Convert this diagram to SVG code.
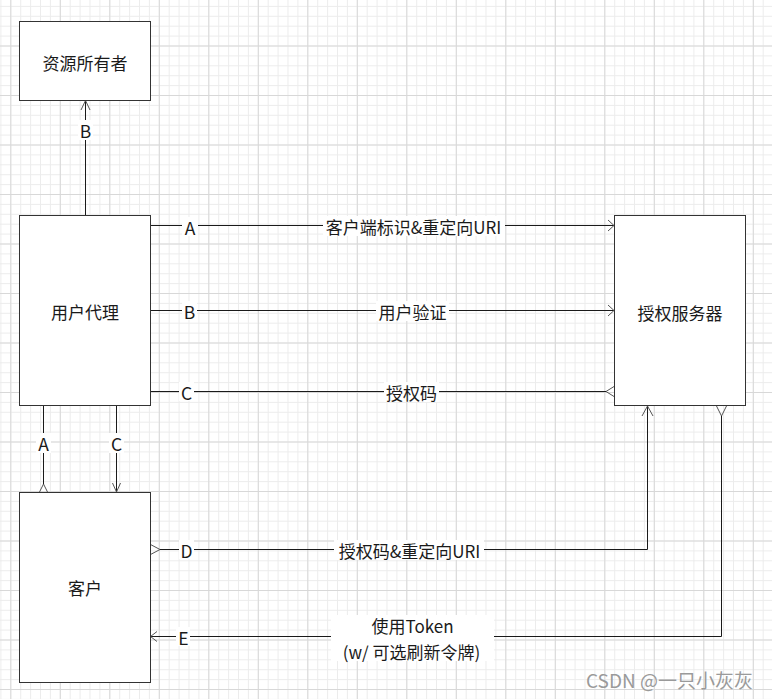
<svg xmlns="http://www.w3.org/2000/svg" width="772" height="699" viewBox="0 0 772 699">
<style>
.box{fill:#fff;stroke:#333;stroke-width:1}
.ln{fill:none;stroke:#1a1a1a;stroke-width:1}
.ah{fill:none;stroke:#555;stroke-width:1}
.bg{fill:#fff}
text{font-family:"Noto Sans CJK SC","Noto Sans",sans-serif;font-size:17px;fill:#1a1a1a;text-anchor:middle;dominant-baseline:central}
.lt{font-size:17.5px}
.wm{font-size:19px;fill:#9a9a9a;text-anchor:start;dominant-baseline:auto}
</style>
<defs>
<pattern id="minor" x="10.3" y="45.5" width="9.9" height="9.9" patternUnits="userSpaceOnUse">
<rect x="0" y="0" width="1" height="9.9" fill="#ececec"/>
<rect x="0" y="0" width="9.9" height="1" fill="#ececec"/>
</pattern>
<pattern id="major" x="10.3" y="45.5" width="49.5" height="49.5" patternUnits="userSpaceOnUse">
<rect x="0" y="0" width="1" height="49.5" fill="#d8d8d8"/>
<rect x="0" y="0" width="49.5" height="1" fill="#d8d8d8"/>
</pattern>
</defs>
<rect width="772" height="699" fill="#fff"/>
<rect width="772" height="699" fill="url(#minor)"/>
<rect width="772" height="699" fill="url(#major)"/>

<g id="connectors">
<path class="ln" d="M85.5,215 V100.5"/>
<path class="ah" d="M81,110 L85.5,100.5 L90,110"/>
<path class="ln" d="M150.5,225.5 H614"/>
<path class="ah" d="M608,220 L614,225.5 L608,231"/>
<path class="ln" d="M150.5,310.5 H614"/>
<path class="ah" d="M608,305 L614,310.5 L608,316"/>
<path class="ln" d="M150.5,391.5 H606"/>
<path class="ah" d="M614,386.5 L606,391.5 L614,396.5"/>
<path class="ln" d="M43.5,405 V484"/>
<path class="ah" d="M39.5,492 L43.5,484 L47.5,492"/>
<path class="ln" d="M116.5,405 V492"/>
<path class="ah" d="M112.5,483 L116.5,492 L120.5,483"/>
<path class="ln" d="M160,549.5 H647.5 V406"/>
<path class="ah" d="M150.5,544.5 L160,549.5 L150.5,554.5"/>
<path class="ah" d="M642,416 L647.5,406 L653,416"/>
<path class="ln" d="M721.5,416 V636.5 H150.5"/>
<path class="ah" d="M716.5,406 L721.5,416 L726.5,406"/>
<path class="ah" d="M157,631.5 L150.5,636.5 L157,641.5"/>

<rect class="bg" x="78" y="120" width="15" height="20"/>
<text class="lt" x="85.5" y="130">B</text>
<rect class="bg" x="182" y="217" width="16" height="19"/>
<text class="lt" x="190" y="227">A</text>
<rect class="bg" x="323" y="216" width="182" height="20"/>
<text x="413.5" y="226">客户端标识&amp;重定向URI</text>
<rect class="bg" x="182" y="301" width="15" height="19"/>
<text class="lt" x="189.5" y="311.5">B</text>
<rect class="bg" x="376" y="301" width="73" height="20"/>
<text x="412.5" y="311">用户验证</text>
<rect class="bg" x="179" y="382" width="15" height="19"/>
<text class="lt" x="186.5" y="392.5">C</text>
<rect class="bg" x="384" y="382" width="55" height="20"/>
<text x="411.5" y="392">授权码</text>
<rect class="bg" x="36" y="433" width="15" height="20"/>
<text class="lt" x="43.5" y="443">A</text>
<rect class="bg" x="109" y="433" width="15" height="20"/>
<text class="lt" x="116.5" y="443">C</text>
<rect class="bg" x="179" y="540" width="15" height="19"/>
<text class="lt" x="186.5" y="550.5">D</text>
<rect class="bg" x="334" y="540" width="150" height="20"/>
<text x="409.5" y="550">授权码&amp;重定向URI</text>
<rect class="bg" x="176" y="627" width="14" height="19"/>
<text class="lt" x="183.5" y="637.5">E</text>
<rect class="bg" x="331" y="615" width="163" height="46"/>
<text x="412.5" y="625">使用Token</text>
<text x="411.5" y="651">(w/ 可选刷新令牌)</text>
</g>

<g id="resource-owner">
<rect class="box" x="19.5" y="21.5" width="131" height="79"/>
<text x="85" y="62">资源所有者</text>
</g>
<g id="user-agent">
<rect class="box" x="19.5" y="215.5" width="131" height="190"/>
<text x="85" y="311">用户代理</text>
</g>
<g id="auth-server">
<rect class="box" x="614.5" y="215.5" width="131" height="190"/>
<text x="680" y="312">授权服务器</text>
</g>
<g id="client">
<rect class="box" x="19.5" y="492.5" width="131" height="190"/>
<text x="85" y="587">客户</text>
</g>

<text class="wm" x="586" y="688">CSDN @一只小灰灰</text>
</svg>
